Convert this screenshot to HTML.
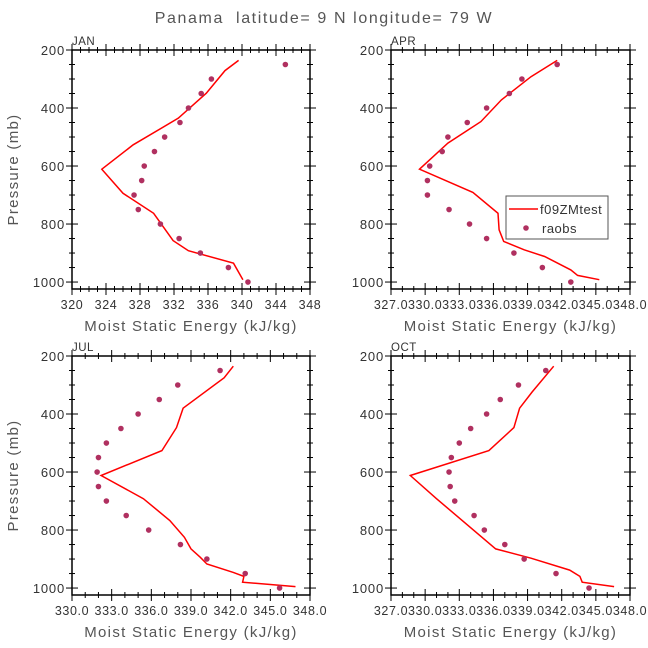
<!DOCTYPE html>
<html><head><meta charset="utf-8"><style>
html,body{margin:0;padding:0;background:#fff;}
svg{display:block;font-family:"Liberation Sans",sans-serif;}
</style></head><body>
<svg id="chart" width="648" height="648" viewBox="0 0 648 648" xmlns="http://www.w3.org/2000/svg">
<rect width="648" height="648" fill="#fff"/>
<text x="324" y="23" text-anchor="middle" font-size="16" fill="#555" letter-spacing="1.6" style="white-space:pre">Panama  latitude= 9 N longitude= 79 W</text>
</svg>
<script>
const pressureLevels = [250,300,350,400,450,500,550,600,650,700,750,800,850,900,950,1000];
const janObs = [345.1,336.4,335.2,333.7,332.7,330.9,329.7,328.5,328.2,327.3,327.8,330.4,332.6,335.1,338.4,340.7];
const janModelP = [236,271,349,378,435,527,611,694,763,857,892,935,992];
const janModelE = [339.6,338.0,335.8,334.7,332.5,327.2,323.5,326.0,329.6,331.9,333.7,339.0,340.1];
const aprObs = [341.6,338.5,337.4,335.4,333.7,332.0,331.5,330.4,330.2,330.2,332.1,333.9,335.4,337.8,340.3,342.8];
const aprModelP = [236,292,372,447,521,611,691,763,820,860,889,912,958,977,992];
const aprModelE = [341.6,339.3,336.7,334.9,332.0,329.5,334.2,336.4,336.5,336.9,338.7,340.5,342.8,343.4,345.3];
const julObs = [341.2,338.0,336.6,335.0,333.7,332.6,332.0,331.9,332.0,332.6,334.1,335.8,338.2,340.2,343.1,345.7];
const julModelP = [235,275,380,447,526,612,692,767,825,865,894,917,946,960,980,995];
const julModelE = [342.2,341.5,338.4,337.9,336.8,332.2,335.4,337.4,338.5,339.0,339.7,340.2,342.2,343.0,342.9,346.9];
const octObs = [340.6,338.2,336.6,335.4,334.0,333.0,332.3,332.1,332.2,332.6,334.3,335.2,337.0,338.7,341.5,344.4];
const octModelP = [235,324,380,447,526,612,692,865,897,938,960,980,995];
const octModelE = [341.3,339.4,338.3,337.8,335.6,328.7,331.0,336.2,339.3,342.7,343.6,343.8,346.6];
const janTicks = [320,324,328,332,336,340,344,348];
const aprTicks = [327,330,333,336,339,342,345,348];
const julTicks = [330,333,336,339,342,345,348];
const octTicks = [327,330,333,336,339,342,345,348];
const yTicks = [200,400,600,800,1000];

const NS='http://www.w3.org/2000/svg';
const svg=document.getElementById('chart');
function mk(tag,attrs,parent){const e=document.createElementNS(NS,tag);for(const k in attrs)e.setAttribute(k,attrs[k]);(parent||svg).appendChild(e);return e;}

const panels=[
 {name:'jan',label:'JAN',x0:72,x1:310,y0:50,y1:289,xmin:320,xmax:348,ticks:janTicks,minor:1,dec:0,obs:janObs,mp:janModelP,me:janModelE,ylab:true,legend:false},
 {name:'apr',label:'APR',x0:391,x1:630,y0:50,y1:289,xmin:327,xmax:348,ticks:aprTicks,minor:1,dec:1,obs:aprObs,mp:aprModelP,me:aprModelE,ylab:false,legend:true},
 {name:'jul',label:'JUL',x0:72,x1:310,y0:356,y1:595,xmin:330,xmax:348,ticks:julTicks,minor:1,dec:1,obs:julObs,mp:julModelP,me:julModelE,ylab:true,legend:false},
 {name:'oct',label:'OCT',x0:391,x1:630,y0:356,y1:595,xmin:327,xmax:348,ticks:octTicks,minor:1,dec:1,obs:octObs,mp:octModelP,me:octModelE,ylab:false,legend:false}
];
const PMIN=200,PMAX=1024;
panels.forEach(P=>{
 const g=mk('g',{});
 
 
 const xs=v=>P.x0+(v-P.xmin)/(P.xmax-P.xmin)*(P.x1-P.x0);
 const ys=p=>P.y0+(p-PMIN)/(PMAX-PMIN)*(P.y1-P.y0);
 for(let v=P.xmin;v<=P.xmax+1e-9;v+=P.minor){
  const major=P.ticks.some(t=>Math.abs(t-v)<1e-6);const L=major?6:3;const x=xs(v);
  mk('line',{x1:x,x2:x,y1:P.y1-L,y2:P.y1+L,stroke:'#000','stroke-width':1},g);
  mk('line',{x1:x,x2:x,y1:P.y0-L,y2:P.y0+L,stroke:'#000','stroke-width':1},g);
 }
 for(let p=200;p<=1000;p+=50){
  const major=p%200===0;const L=major?6:3;const y=ys(p);
  mk('line',{x1:P.x0-L,x2:P.x0+L,y1:y,y2:y,stroke:'#000','stroke-width':1},g);
  mk('line',{x1:P.x1-L,x2:P.x1+L,y1:y,y2:y,stroke:'#000','stroke-width':1},g);
 }
 const fr=mk('rect',{x:P.x0,y:P.y0,width:P.x1-P.x0,height:P.y1-P.y0,fill:'none',stroke:'#000','stroke-width':1.5},g);
 
 
 P.ticks.forEach(t=>{
  const tx=mk('text',{x:xs(t),y:P.y1+20,'text-anchor':'middle','font-size':12.5,fill:'#333','letter-spacing':'0.6'},g);
  tx.textContent=t.toFixed(P.dec);
  
  
 });
 yTicks.forEach(t=>{
  const tx=mk('text',{x:P.x0-7,y:ys(t)+5,'text-anchor':'end','font-size':13,fill:'#333','letter-spacing':'0.8'},g);
  tx.textContent=t;
  
  
 });
 const xt=mk('text',{x:(P.x0+P.x1)/2,y:P.y1+42,'text-anchor':'middle','font-size':15,fill:'#555','letter-spacing':'1.3'},g);
 xt.textContent='Moist Static Energy (kJ/kg)';
 
 
 if(P.ylab){
  const cy=(P.y0+P.y1)/2;
  const yt=mk('text',{x:18,y:cy,'text-anchor':'middle','font-size':15,fill:'#555',transform:`rotate(-90 18 ${cy})`,'letter-spacing':'1.3'},g);
  yt.textContent='Pressure (mb)';
  
  
 }
 const lb=mk('text',{x:P.x0,y:P.y0-5,'font-size':11.5,fill:'#333','letter-spacing':'0.5'},g);
 lb.textContent=P.label;
 
 
 const pts=P.me.map((e,i)=>xs(e).toFixed(1)+','+ys(P.mp[i]).toFixed(1)).join(' ');
 const pl=mk('polyline',{points:pts,fill:'none',stroke:'#ff0000','stroke-width':1.5},g);
 
 
 P.obs.forEach((e,i)=>{
  const c=mk('circle',{cx:xs(e),cy:ys(pressureLevels[i]),r:2.8,fill:'#b03060'},g);
  
  
 });
 if(P.legend){
  const lg=mk('g',{},g);
  
  
  mk('rect',{x:506,y:196,width:102,height:43,fill:'#fff',stroke:'#555','stroke-width':1},lg);
  mk('line',{x1:509,x2:538,y1:209,y2:209,stroke:'#ff0000','stroke-width':1.5},lg);
  const t1=mk('text',{x:540,y:214,'font-size':13,fill:'#333','letter-spacing':'0.5'},lg);t1.textContent='f09ZMtest';
  
  
  mk('circle',{cx:526,cy:228,r:2.8,fill:'#b03060'},lg);
  const t2=mk('text',{x:542,y:233,'font-size':13,fill:'#333','letter-spacing':'0.5'},lg);t2.textContent='raobs';
  
  
 }
});
</script>
</body></html>
